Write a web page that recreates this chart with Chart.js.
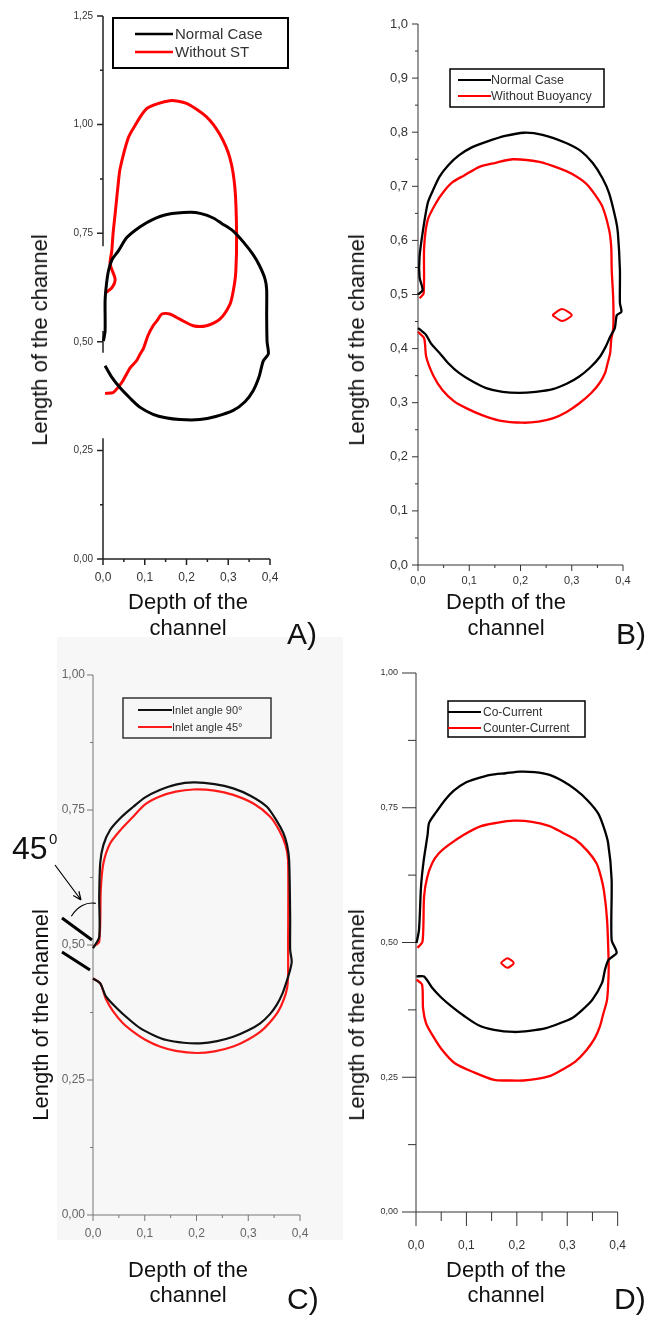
<!DOCTYPE html>
<html>
<head>
<meta charset="utf-8">
<script src="https://cdn.jsdelivr.net/npm/chart.js@4.4.1/dist/chart.umd.min.js"></script>
<style>
  html, body { margin: 0; padding: 0; background: #fff; }
  #page { position: relative; width: 652px; height: 1319px; overflow: hidden; font-family: "Liberation Sans", Arial, sans-serif; color: #111; }
  #page canvas { position: absolute; left: 0; top: 0; }
  .txt { position: absolute; white-space: nowrap; }
  .ytitle { font-size: 22px; line-height: 26px; transform: translate(-50%, -50%) rotate(-90deg); }
  .xtitle { font-size: 22px; line-height: 26px; text-align: center; transform: translateX(-50%); }
  .panel { font-size: 30px; line-height: 30px; }
  #bgC { position: absolute; left: 57px; top: 637px; width: 286px; height: 603px; background: #f7f7f7; }
</style>
</head>
<body>
<div id="page">
  <div id="bgC"></div>
  <canvas id="chartA" width="652" height="1319"></canvas>
  <canvas id="chartB" width="652" height="1319"></canvas>
  <canvas id="chartC" width="652" height="1319"></canvas>
  <canvas id="chartD" width="652" height="1319"></canvas>

  <div class="txt ytitle" style="left:40px;top:340px">Length of the channel</div>
  <div class="txt ytitle" style="left:357px;top:340px">Length of the channel</div>
  <div class="txt ytitle" style="left:41px;top:1015px">Length of the channel</div>
  <div class="txt ytitle" style="left:357px;top:1015px">Length of the channel</div>

  <div class="txt xtitle" style="left:188px;top:589px">Depth of the<br>channel</div>
  <div class="txt xtitle" style="left:506px;top:589px">Depth of the<br>channel</div>
  <div class="txt xtitle" style="left:188px;top:1257px;line-height:25px">Depth of the<br>channel</div>
  <div class="txt xtitle" style="left:506px;top:1257px;line-height:25px">Depth of the<br>channel</div>

  <div class="txt panel" style="left:287px;top:619px">A)</div>
  <div class="txt panel" style="left:616px;top:619px">B)</div>
  <div class="txt panel" style="left:287px;top:1284px">C)</div>
  <div class="txt panel" style="left:614px;top:1284px">D)</div>

  <div class="txt" style="left:12px;top:832px;font-size:32px;line-height:32px">45</div>
  <div class="txt" style="left:49px;top:831px;font-size:15px;line-height:15px">0</div>
</div>

<script>
// Panel A: Normal Case / Without ST  (x = depth, y = length)
const aNormal = [[0.005,0.445],[0.02,0.42],[0.041,0.394],[0.065,0.37],[0.089,0.349],[0.12,0.333],[0.15,0.325],[0.184,0.321],[0.232,0.321],[0.27,0.328],[0.312,0.342],[0.34,0.362],[0.36,0.388],[0.374,0.42],[0.384,0.456],[0.396,0.472],[0.393,0.50],[0.392,0.56],[0.392,0.62],[0.388,0.645],[0.375,0.675],[0.36,0.70],[0.336,0.73],[0.312,0.755],[0.285,0.772],[0.264,0.785],[0.235,0.795],[0.208,0.798],[0.153,0.793],[0.12,0.782],[0.089,0.765],[0.057,0.74],[0.036,0.708],[0.022,0.69],[0.013,0.663],[0.008,0.63],[0.005,0.594],[0.005,0.525],[0.001,0.502]];
const aNoST = [[0.005,0.381],[0.024,0.383],[0.036,0.395],[0.048,0.411],[0.065,0.44],[0.08,0.456],[0.089,0.472],[0.097,0.485],[0.108,0.515],[0.12,0.537],[0.129,0.548],[0.141,0.564],[0.16,0.564],[0.184,0.552],[0.216,0.537],[0.248,0.537],[0.28,0.552],[0.304,0.586],[0.312,0.617],[0.318,0.66],[0.32,0.748],[0.316,0.854],[0.304,0.923],[0.28,0.977],[0.248,1.018],[0.2,1.049],[0.16,1.055],[0.105,1.037],[0.075,0.995],[0.06,0.968],[0.041,0.899],[0.037,0.869],[0.029,0.794],[0.024,0.748],[0.021,0.709],[0.017,0.679],[0.029,0.644],[0.021,0.624],[0.005,0.612]];

// Panel B: Normal Case / Without Buoyancy
const bNormal = [[0.0,0.438],[0.008,0.432],[0.016,0.425],[0.025,0.41],[0.042,0.392],[0.06,0.372],[0.08,0.355],[0.105,0.34],[0.133,0.327],[0.165,0.32],[0.197,0.318],[0.23,0.32],[0.263,0.325],[0.29,0.335],[0.314,0.348],[0.336,0.365],[0.355,0.385],[0.367,0.405],[0.375,0.422],[0.384,0.438],[0.388,0.462],[0.397,0.468],[0.394,0.484],[0.394,0.545],[0.39,0.614],[0.386,0.638],[0.373,0.687],[0.36,0.715],[0.341,0.743],[0.318,0.765],[0.289,0.78],[0.243,0.795],[0.207,0.799],[0.17,0.793],[0.133,0.782],[0.105,0.772],[0.081,0.758],[0.06,0.74],[0.042,0.718],[0.028,0.69],[0.019,0.669],[0.009,0.614],[0.003,0.569],[0.003,0.532],[0.009,0.508],[0.0,0.50]];
const bNoBuoy = [[0.0,0.431],[0.012,0.419],[0.016,0.385],[0.03,0.35],[0.048,0.323],[0.07,0.303],[0.094,0.29],[0.125,0.277],[0.159,0.267],[0.204,0.263],[0.235,0.265],[0.263,0.271],[0.29,0.283],[0.315,0.299],[0.338,0.318],[0.354,0.336],[0.365,0.355],[0.37,0.373],[0.375,0.392],[0.377,0.416],[0.381,0.438],[0.381,0.49],[0.378,0.545],[0.377,0.588],[0.373,0.619],[0.36,0.662],[0.345,0.685],[0.328,0.705],[0.3,0.723],[0.276,0.733],[0.237,0.745],[0.185,0.75],[0.15,0.743],[0.12,0.736],[0.09,0.72],[0.068,0.708],[0.05,0.69],[0.035,0.669],[0.019,0.638],[0.012,0.588],[0.011,0.502],[0.003,0.493]];
const bNoBuoyIsland = [[0.262,0.462],[0.281,0.473],[0.300,0.462],[0.281,0.451],[0.262,0.462]];

// Panel C: inlet angle 90 / 45 degrees
const cAngle90 = [[0.0,0.438],[0.014,0.429],[0.025,0.405],[0.046,0.383],[0.07,0.362],[0.091,0.346],[0.115,0.334],[0.142,0.324],[0.175,0.319],[0.207,0.318],[0.24,0.322],[0.271,0.33],[0.3,0.342],[0.323,0.355],[0.342,0.372],[0.355,0.389],[0.366,0.41],[0.374,0.432],[0.381,0.454],[0.384,0.47],[0.381,0.491],[0.381,0.55],[0.379,0.657],[0.375,0.685],[0.368,0.707],[0.355,0.73],[0.336,0.756],[0.305,0.776],[0.271,0.79],[0.235,0.798],[0.194,0.801],[0.16,0.797],[0.129,0.787],[0.1,0.773],[0.078,0.756],[0.055,0.737],[0.033,0.713],[0.02,0.685],[0.014,0.652],[0.012,0.589],[0.012,0.515],[0.0,0.494]];
const cAngle45 = [[0.0,0.438],[0.014,0.429],[0.025,0.4],[0.039,0.377],[0.057,0.356],[0.078,0.339],[0.1,0.325],[0.129,0.312],[0.16,0.304],[0.2,0.3],[0.235,0.303],[0.271,0.312],[0.3,0.325],[0.323,0.339],[0.342,0.357],[0.358,0.377],[0.369,0.4],[0.375,0.42],[0.377,0.444],[0.377,0.491],[0.377,0.657],[0.372,0.685],[0.36,0.712],[0.342,0.738],[0.31,0.762],[0.271,0.778],[0.235,0.786],[0.194,0.788],[0.16,0.784],[0.129,0.775],[0.1,0.76],[0.078,0.738],[0.055,0.715],[0.033,0.688],[0.02,0.651],[0.015,0.602],[0.012,0.506],[0.0,0.497]];

// Panel D: co-current / counter-current
const dCoCurrent = [[0.001,0.437],[0.016,0.437],[0.032,0.416],[0.05,0.398],[0.071,0.381],[0.095,0.364],[0.123,0.347],[0.155,0.338],[0.194,0.334],[0.225,0.336],[0.258,0.341],[0.285,0.35],[0.31,0.36],[0.33,0.375],[0.35,0.394],[0.369,0.425],[0.375,0.45],[0.382,0.468],[0.398,0.481],[0.388,0.505],[0.388,0.617],[0.381,0.685],[0.372,0.715],[0.361,0.74],[0.34,0.764],[0.316,0.784],[0.29,0.8],[0.265,0.811],[0.235,0.816],[0.206,0.817],[0.178,0.814],[0.148,0.811],[0.12,0.804],[0.097,0.796],[0.075,0.782],[0.058,0.765],[0.04,0.742],[0.026,0.722],[0.023,0.7],[0.015,0.65],[0.01,0.604],[0.006,0.524],[0.001,0.499]];
const dCounter = [[0.001,0.431],[0.012,0.422],[0.014,0.378],[0.02,0.35],[0.032,0.329],[0.05,0.303],[0.077,0.276],[0.115,0.259],[0.155,0.245],[0.185,0.244],[0.213,0.244],[0.24,0.247],[0.265,0.252],[0.29,0.264],[0.316,0.279],[0.338,0.3],[0.355,0.323],[0.365,0.345],[0.371,0.366],[0.379,0.394],[0.382,0.44],[0.382,0.468],[0.379,0.542],[0.373,0.595],[0.366,0.625],[0.358,0.647],[0.34,0.67],[0.316,0.691],[0.29,0.704],[0.265,0.716],[0.23,0.724],[0.194,0.726],[0.16,0.722],[0.129,0.716],[0.095,0.7],[0.065,0.681],[0.045,0.665],[0.032,0.647],[0.022,0.62],[0.016,0.585],[0.013,0.502],[0.003,0.49]];
const dCounterIsland = [[0.168,0.462],[0.181,0.471],[0.194,0.462],[0.181,0.453],[0.168,0.462]];

const FONT = '"Liberation Sans", Arial, sans-serif';
const W = 652, H = 1319;

const toXY = pts => pts.map(p => ({ x: p[0], y: p[1] }));
const comma = d => v => Number(v).toFixed(d).replace('.', ',');

// Origin-style axes: outward major/minor tick marks, axis lines (optionally broken)
const originAxes = {
    id: 'originAxes',
    beforeDatasetsDraw(chart, args, o) {
        const { ctx, chartArea: area, scales: { x, y } } = chart;
        const segs = o.ySegments || [[y.min, y.max]];
        const inSeg = v => segs.some(s => v >= s[0] - 1e-9 && v <= s[1] + 1e-9);
        ctx.save();
        ctx.strokeStyle = o.color;
        ctx.lineWidth = o.width;
        ctx.beginPath();
        segs.forEach(s => {
            ctx.moveTo(area.left, y.getPixelForValue(s[0]));
            ctx.lineTo(area.left, y.getPixelForValue(s[1]));
        });
        ctx.moveTo(area.left, area.bottom);
        ctx.lineTo(area.right, area.bottom);

        const n = Math.round((y.max - y.min) / o.yMinor);
        const every = Math.round(o.yMajor / o.yMinor);
        for (let i = 0; i <= n; i++) {
            const v = y.min + i * o.yMinor;
            if (!inSeg(v)) continue;
            const len = i % every === 0 ? o.majorLen : o.minorLen;
            const py = y.getPixelForValue(v);
            ctx.moveTo(area.left, py);
            ctx.lineTo(area.left - len, py);
        }
        const nx = Math.round((x.max - x.min) / o.xMinor);
        const everyX = Math.round(o.xMajor / o.xMinor);
        for (let i = 0; i <= nx; i++) {
            const v = x.min + i * o.xMinor;
            const len = i % everyX === 0 ? (o.xMajorLen || o.majorLen) : (o.xMinorLen || o.minorLen);
            const px = x.getPixelForValue(v);
            ctx.moveTo(px, area.bottom);
            ctx.lineTo(px, area.bottom + len);
        }
        ctx.stroke();
        ctx.restore();
    }
};

// Framed legend placed inside the plot
const boxLegend = {
    id: 'boxLegend',
    afterDatasetsDraw(chart, args, o) {
        if (!o.box) return;
        const ctx = chart.ctx;
        const [l, t, r, b] = o.box;
        ctx.save();
        ctx.strokeStyle = o.borderColor;
        ctx.lineWidth = o.borderWidth;
        ctx.strokeRect(l, t, r - l, b - t);
        const items = chart.data.datasets.filter(d => d.label);
        items.forEach((d, i) => {
            const yy = o.rows[i];
            ctx.strokeStyle = d.borderColor;
            ctx.lineWidth = o.lineWidth;
            ctx.beginPath();
            ctx.moveTo(o.lineX[0], yy);
            ctx.lineTo(o.lineX[1], yy);
            ctx.stroke();
            ctx.fillStyle = o.textColor;
            ctx.font = o.font;
            ctx.textBaseline = 'middle';
            ctx.fillText(d.label, o.textX, yy + 1);
        });
        ctx.restore();
    }
};

// Inlet sketch for panel C: 45 degree walls, angle arc and pointer arrow
const inletSketch = {
    id: 'inletSketch',
    afterDraw(chart, args, o) {
        if (!o.show) return;
        const { ctx, chartArea: area, scales: { y } } = chart;
        const ax = area.left, ay = y.getPixelForValue(0.5);
        ctx.save();
        ctx.strokeStyle = '#000';
        ctx.lineCap = 'butt';
        ctx.lineWidth = 3;
        ctx.beginPath();
        ctx.moveTo(ax - 31, ay - 27); ctx.lineTo(ax - 1, ay - 5);
        ctx.moveTo(ax - 31, ay + 7); ctx.lineTo(ax - 3, ay + 25);
        ctx.stroke();
        ctx.lineWidth = 1.2;
        ctx.beginPath();
        ctx.ellipse(ax - 1, ay - 5, 27, 37, 0, -140 * Math.PI / 180, -82 * Math.PI / 180);
        ctx.stroke();
        const x0 = ax - 38, y0 = ay - 80, x1 = ax - 12, y1 = ay - 45;
        ctx.beginPath();
        ctx.moveTo(x0, y0); ctx.lineTo(x1, y1);
        const ang = Math.atan2(y1 - y0, x1 - x0);
        ctx.moveTo(x1, y1); ctx.lineTo(x1 - 9 * Math.cos(ang - 0.4), y1 - 9 * Math.sin(ang - 0.4));
        ctx.moveTo(x1, y1); ctx.lineTo(x1 - 9 * Math.cos(ang + 0.4), y1 - 9 * Math.sin(ang + 0.4));
        ctx.stroke();
        ctx.restore();
    }
};

function contour(label, pts, color, width) {
    return {
        label: label,
        data: toXY(pts),
        showLine: true,
        borderColor: color,
        backgroundColor: color,
        borderWidth: width,
        pointRadius: 0,
        tension: 0.25,
        fill: false,
        clip: 8,
        borderJoinStyle: 'round'
    };
}

// frame: axis pixel box [left, right, top, bottom]
function makePanel(id, frame, datasets, s) {
    const [axL, axR, axT, axB] = frame;
    return new Chart(document.getElementById(id), {
        type: 'scatter',
        data: { datasets: datasets },
        plugins: [originAxes, boxLegend, inletSketch],
        options: {
            responsive: false,
            animation: false,
            events: [],
            layout: { padding: { left: axL - 60, right: W - axR, top: axT, bottom: H - axB - 40 } },
            scales: {
                x: {
                    type: 'linear', min: 0, max: 0.4,
                    afterFit: sc => { sc.height = 40; },
                    grid: { display: false, drawTicks: false },
                    border: { display: false },
                    ticks: {
                        stepSize: 0.1, autoSkip: false, maxRotation: 0,
                        padding: s.xPad, color: s.tickColor,
                        font: { family: FONT, size: s.xFont },
                        callback: comma(1)
                    }
                },
                y: {
                    type: 'linear', min: 0, max: s.yMax,
                    afterFit: sc => { sc.width = 60; },
                    grid: { display: false, drawTicks: false },
                    border: { display: false },
                    ticks: {
                        stepSize: s.yStep, autoSkip: false,
                        padding: s.yPad, color: s.tickColor,
                        font: { family: FONT, size: s.yFont },
                        callback: comma(s.yDec)
                    }
                }
            },
            plugins: {
                legend: { display: false },
                tooltip: { enabled: false },
                originAxes: s.axes,
                boxLegend: s.legend,
                inletSketch: { show: !!s.inlet }
            }
        }
    });
}

makePanel('chartA', [103, 270, 14, 559], [
    contour('Normal Case', aNormal, '#000', 3),
    contour('Without ST', aNoST, '#ff0000', 3)
], {
    yMax: 1.25, yStep: 0.25, yDec: 2, yFont: 10, xFont: 12, yPad: 10, xPad: 11, tickColor: '#333',
    axes: { color: '#222', width: 1.5, yMajor: 0.25, yMinor: 0.125, xMajor: 0.1, xMinor: 0.05, majorLen: 6, minorLen: 3,
            ySegments: [[0, 0.278], [0.475, 0.525], [0.72, 1.25]] },
    legend: { box: [113, 18, 288, 68], rows: [34, 52], lineX: [135, 173], textX: 175, lineWidth: 2.5,
              font: '15px ' + FONT, textColor: '#333', borderColor: '#000', borderWidth: 2 }
});

makePanel('chartB', [418, 623, 24, 565], [
    contour('Normal Case', bNormal, '#000', 2.3),
    contour('Without Buoyancy', bNoBuoy, '#ff0000', 2.3),
    contour(null, bNoBuoyIsland, '#ff0000', 2)
], {
    yMax: 1.0, yStep: 0.1, yDec: 1, yFont: 13, xFont: 11, yPad: 10, xPad: 9, tickColor: '#333',
    axes: { color: '#333', width: 1, yMajor: 0.1, yMinor: 0.05, xMajor: 0.1, xMinor: 0.05, majorLen: 6, minorLen: 3 },
    legend: { box: [450, 69, 604, 107], rows: [80, 96], lineX: [458, 491], textX: 491, lineWidth: 2,
              font: '12.5px ' + FONT, textColor: '#333', borderColor: '#000', borderWidth: 1.5 }
});

makePanel('chartC', [93, 300, 675, 1215], [
    contour('Inlet angle 90°', cAngle90, '#111', 2.2),
    contour('Inlet angle 45°', cAngle45, '#ff1a1a', 2.2)
], {
    yMax: 1.0, yStep: 0.25, yDec: 2, yFont: 12, xFont: 12, yPad: 8, xPad: 11, tickColor: '#666', inlet: true,
    axes: { color: '#777', width: 1, yMajor: 0.25, yMinor: 0.125, xMajor: 0.1, xMinor: 0.05, majorLen: 6, minorLen: 3 },
    legend: { box: [123, 698, 271, 738], rows: [710, 727], lineX: [138, 172], textX: 172, lineWidth: 2,
              font: '11px ' + FONT, textColor: '#333', borderColor: '#333', borderWidth: 1.5 }
});

makePanel('chartD', [416, 623, 673, 1212], [
    contour('Co-Current', dCoCurrent, '#000', 2.3),
    contour('Counter-Current', dCounter, '#ff0000', 2.3),
    contour(null, dCounterIsland, '#ff0000', 2)
], {
    yMax: 1.0, yStep: 0.25, yDec: 2, yFont: 9, xFont: 12, yPad: 18, xPad: 26, tickColor: '#333',
    axes: { color: '#333', width: 1, yMajor: 0.25, yMinor: 0.125, xMajor: 0.1, xMinor: 0.05, majorLen: 14, minorLen: 8, xMinorLen: 9 },
    legend: { box: [448, 701, 585, 737], rows: [712, 728], lineX: [448, 481], textX: 483, lineWidth: 2,
              font: '12px ' + FONT, textColor: '#333', borderColor: '#000', borderWidth: 1.5 }
});
</script>
</body>
</html>
